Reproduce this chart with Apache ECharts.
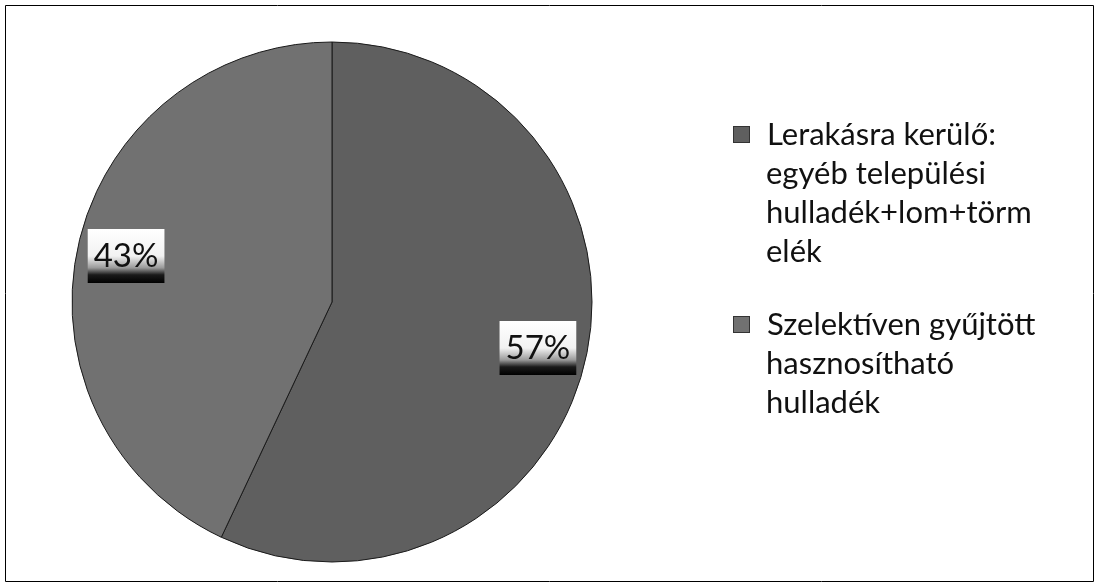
<!DOCTYPE html>
<html>
<head>
<meta charset="utf-8">
<script src="https://cdn.jsdelivr.net/npm/echarts@6/dist/echarts.min.js"></script>
<style>
html,body{margin:0;padding:0;background:#fff;}
#main{width:1100px;height:585px;}
</style>
</head>
<body>
<div id="main"></div>
<script>
// adatok
var names = ['Lerakásra kerülő: egyéb települési hulladék+lom+törmelék', 'Szelektíven gyűjtött hasznosítható hulladék'];
var values = [57, 43];
var colors = ['#5f5f5f', '#717171'];
// legend sorok, ahogy az eredetin tördelve van
var legendLines = [
	['Lerakásra kerülő:', 'egyéb települési', 'hulladék+lom+törm', 'elék'],
	['Szelektíven gyűjtött', 'hasznosítható', 'hulladék']
];

var pieData = [];
for (var i = 0; i < names.length; i++) {
	pieData.push({ name: names[i], value: values[i], itemStyle: { color: colors[i] } });
}

var myChart = echarts.init(document.getElementById('main'));
var option = {
	animation: false,
	graphic: [{
		type: 'rect',
		shape: { x: 5.5, y: 5.5, width: 1088, height: 576 },
		style: { fill: 'none', stroke: '#000', lineWidth: 1 },
		silent: true
	}],
	legend: {
		orient: 'vertical',
		left: 724,
		top: 110,
		icon: 'none',
		itemWidth: 0,
		itemHeight: 15,
		itemGap: 34,
		data: names,
		textStyle: {
			fontFamily: 'Lato',
			fontSize: 31,
			lineHeight: 39,
			color: '#111',
			rich: {
				s0: { width: 15, height: 15, backgroundColor: colors[0], borderColor: '#333', borderWidth: 1, lineHeight: 39 },
				s1: { width: 15, height: 15, backgroundColor: colors[1], borderColor: '#333', borderWidth: 1, lineHeight: 39 },
				sp: { width: 18, lineHeight: 39 },
				ind: { width: 32, lineHeight: 39 },
				t: { fontFamily: 'Lato', fontSize: 31, lineHeight: 39, color: '#111' }
			}
		},
		formatter: function (name) {
			var idx = names.indexOf(name);
			var lines = legendLines[idx];
			var out = '{s' + idx + '|}{sp|}{t|' + lines[0] + '}';
			for (var k = 1; k < lines.length; k++) {
				out += '\n{ind|}{t|' + lines[k] + '}';
			}
			return out;
		}
	},
	series: [{
		type: 'pie',
		center: [332, 302],
		radius: 260,
		startAngle: 90,
		clockwise: true,
		silent: true,
		label: { show: false },
		labelLine: { show: false },
		itemStyle: { borderColor: '#1a1a1a', borderWidth: 1 },
		data: pieData
	}, {
		// csak a címkék, a sugár 80%-ánál
		type: 'pie',
		center: [332, 302],
		radius: [156, 260],
		startAngle: 90,
		clockwise: true,
		silent: true,
		legendHoverLink: false,
		itemStyle: { color: 'rgba(0,0,0,0)', borderWidth: 0 },
		labelLine: { show: false },
		label: {
			show: true,
			position: 'inside',
			formatter: '{d}%',
			fontFamily: 'Lato',
			fontSize: 33,
			color: '#111',
			padding: [12, 6, 9, 6],
			backgroundColor: {
				type: 'linear', x: 0, y: 0, x2: 0, y2: 1,
				colorStops: [
					{ offset: 0, color: '#ffffff' },
					{ offset: 0.5, color: '#f2f2f2' },
					{ offset: 0.72, color: '#9a9a9a' },
					{ offset: 0.85, color: '#1a1a1a' },
					{ offset: 1, color: '#000000' }
				]
			}
		},
		data: values.map(function (v, i) { return { name: names[i] + ' ', value: v }; })
	}]
};
myChart.setOption(option);
</script>
</body>
</html>
